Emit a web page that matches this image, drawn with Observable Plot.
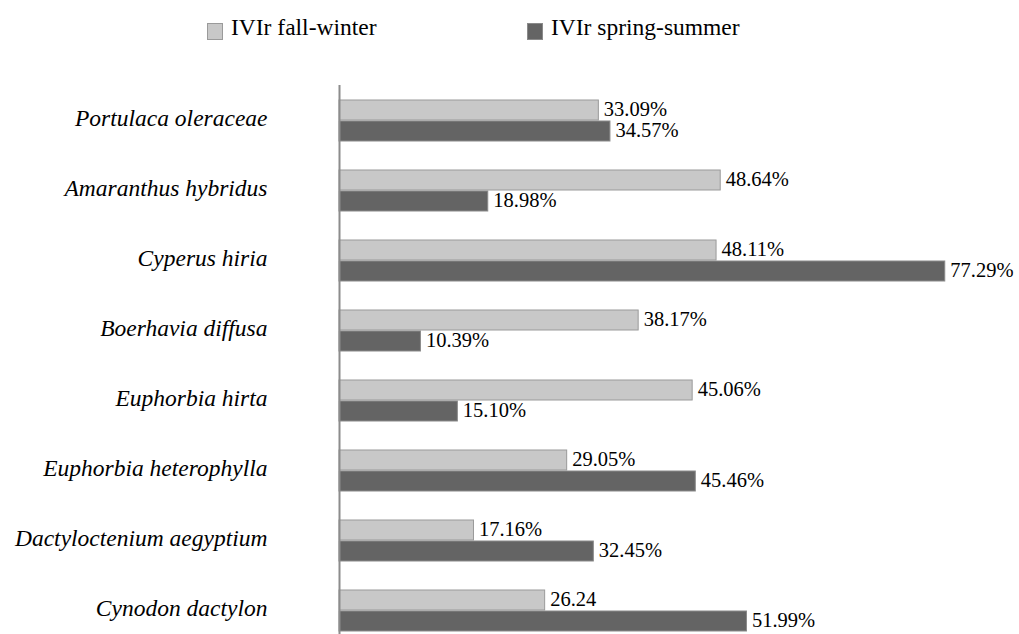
<!DOCTYPE html>
<html>
<head>
<meta charset="utf-8">
<script src="https://cdn.jsdelivr.net/npm/d3@7"></script>
<script src="https://cdn.jsdelivr.net/npm/@observablehq/plot@0.6"></script>
<style>
  html, body { margin: 0; padding: 0; background: #fff; overflow: hidden; }
  body { width: 1019px; height: 634px; position: relative; font-family: "Liberation Serif", "Times New Roman", serif; }
  #legend { position: relative; height: 85px; }
  .item { position: absolute; top: 14px; display: flex; align-items: center; font-size: 23.5px; color: #000; white-space: nowrap; }
  .sw { width: 16px; height: 17px; box-sizing: border-box; margin-right: 8px; margin-top: 7px; }
</style>
</head>
<body>
<div id="legend"></div>
<div id="chart"></div>
<script>
const species = [
  "Portulaca oleraceae",
  "Amaranthus hybridus",
  "Cyperus hiria",
  "Boerhavia diffusa",
  "Euphorbia hirta",
  "Euphorbia heterophylla",
  "Dactyloctenium aegyptium",
  "Cynodon dactylon"
];
const fallWinter   = [33.09, 48.64, 48.11, 38.17, 45.06, 29.05, 17.16, 26.24];
const springSummer = [34.57, 18.98, 77.29, 10.39, 15.10, 45.46, 32.45, 51.99];
const fallLabels   = ["33.09%", "48.64%", "48.11%", "38.17%", "45.06%", "29.05%", "17.16%", "26.24"];
const springLabels = ["34.57%", "18.98%", "77.29%", "10.39%", "15.10%", "45.46%", "32.45%", "51.99%"];
const seriesNames  = ["IVIr fall-winter", "IVIr spring-summer"];
const seriesColors = ["#c8c8c8", "#646464"];
const seriesStroke = ["#9a9a9a", "#8a8a8a"];

const rows = species.map((s, i) => ({
  species: s, fall: fallWinter[i], spring: springSummer[i],
  fallLabel: fallLabels[i], springLabel: springLabels[i]
}));

// legend
const legend = document.getElementById("legend");
const legendX = [207, 527];
seriesNames.forEach((name, i) => {
  const d = document.createElement("div");
  d.className = "item";
  d.style.left = legendX[i] + "px";
  const sw = document.createElement("span");
  sw.className = "sw";
  sw.style.background = seriesColors[i];
  sw.style.border = "1px solid " + seriesStroke[i];
  d.appendChild(sw);
  d.appendChild(document.createTextNode(name));
  legend.appendChild(d);
});

const chart = Plot.plot({
  width: 1019,
  height: 561,
  marginTop: 0,
  marginBottom: 0,
  marginLeft: 339,
  marginRight: 53,
  style: { fontFamily: "'Liberation Serif', 'Times New Roman', serif", fontSize: "20.5px", color: "#000", background: "#fff" },
  x: { domain: [0, 80], axis: null },
  y: {
    domain: species,
    paddingInner: 29 / 70,
    paddingOuter: 15 / 70,
    axis: null
  },
  marks: [
    Plot.barX(rows, { y: "species", x: "fall", fill: seriesColors[0], stroke: seriesStroke[0], strokeWidth: 1, insetBottom: 21 }),
    Plot.barX(rows, { y: "species", x: "spring", fill: seriesColors[1], stroke: seriesStroke[1], strokeWidth: 1, insetTop: 21 }),
    Plot.text(rows, { y: "species", x: "fall", text: "fallLabel", textAnchor: "start", dx: 5, dy: -12, fontSize: 20.5, fill: "#000" }),
    Plot.text(rows, { y: "species", x: "spring", text: "springLabel", textAnchor: "start", dx: 5, dy: 9, fontSize: 20.5, fill: "#000" }),
    Plot.text(rows, { y: "species", text: "species", frameAnchor: "left", textAnchor: "end", dx: -72, dy: -3, fontSize: 23.5, fontStyle: "italic", fill: "#000" }),
    Plot.ruleX([0], { stroke: "#8c8c8c", strokeWidth: 2 })
  ]
});
document.getElementById("chart").appendChild(chart);
</script>
</body>
</html>
